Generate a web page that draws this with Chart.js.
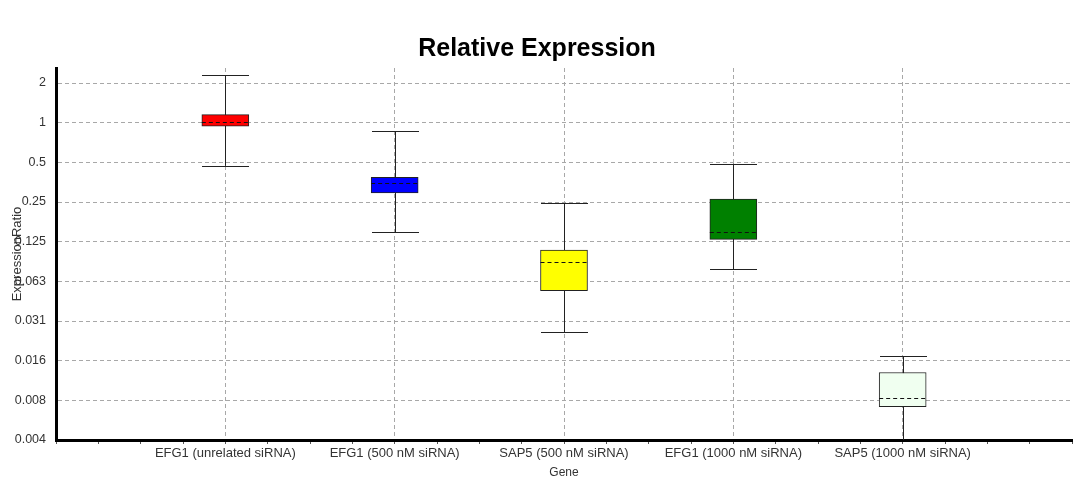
<!DOCTYPE html>
<html>
<head>
<meta charset="utf-8">
<script src="https://cdn.jsdelivr.net/npm/chart.js@4"></script>
<style>
  html, body { margin: 0; padding: 0; background: #fff; }
  #wrap { width: 1088px; height: 490px; }
</style>
</head>
<body>
<div id="wrap"><canvas id="exprChart" width="1088" height="490"></canvas></div>
<script>
// values (log2 axis)
const categories = ['EFG1 (unrelated siRNA)', 'EFG1 (500 nM siRNA)', 'SAP5 (500 nM siRNA)', 'EFG1 (1000 nM siRNA)', 'SAP5 (1000 nM siRNA)'];
const whiskerMax = [2.3, 0.86, 0.246, 0.49, 0.0169];
const boxUpper   = [1.15, 0.385, 0.108, 0.263, 0.0127];
const medians    = [1.02, 0.35, 0.087, 0.147, 0.0081];
const boxLower   = [0.94, 0.293, 0.053, 0.130, 0.0070];
const whiskerMin = [0.47, 0.147, 0.0256, 0.0775, 0.003];
const boxColors  = ['#ff0000', '#0000ff', '#ffff00', '#008000', '#f0fff0'];

const yTickValues = [2, 1, 0.5, 0.25, 0.125, 0.0625, 0.03125, 0.015625, 0.0078125, 0.00390625];
const yTickLabels = ['2', '1', '0.5', '0.25', '0.125', '0.063', '0.031', '0.016', '0.008', '0.004'];

const FONT = 'Arial, "Liberation Sans", sans-serif';

document.addEventListener('DOMContentLoaded', function() {
  const ctx = document.getElementById('exprChart');

  // whiskers under the boxes, dashed median on top
  const boxWhiskers = {
    id: 'boxWhiskers',
    beforeDatasetsDraw(chart) {
      const c = chart.ctx, y = chart.scales.y, area = chart.chartArea;
      const meta = chart.getDatasetMeta(0);
      c.save();
      c.beginPath();
      c.rect(area.left, area.top, area.right - area.left, area.bottom - area.top);
      c.clip();
      c.strokeStyle = '#222';
      c.lineWidth = 1;
      meta.data.forEach(function(bar, i) {
        const x = Math.round(bar.x) + 0.5, half = bar.width / 2;
        const yMax = y.getPixelForValue(whiskerMax[i]);
        const yMin = y.getPixelForValue(whiskerMin[i]);
        c.beginPath();
        c.moveTo(x, yMax);
        c.lineTo(x, yMin);
        c.moveTo(x - half, Math.round(yMax) + 0.5);
        c.lineTo(x + half, Math.round(yMax) + 0.5);
        c.moveTo(x - half, Math.round(yMin) + 0.5);
        c.lineTo(x + half, Math.round(yMin) + 0.5);
        c.stroke();
      });
      c.restore();
    },
    afterDatasetsDraw(chart) {
      const c = chart.ctx, y = chart.scales.y;
      const meta = chart.getDatasetMeta(0);
      c.save();
      c.strokeStyle = '#111';
      c.lineWidth = 1;
      c.setLineDash([4, 3]);
      meta.data.forEach(function(bar, i) {
        const half = bar.width / 2;
        const ym = Math.round(y.getPixelForValue(medians[i])) + 0.5;
        c.beginPath();
        c.moveTo(bar.x - half, ym);
        c.lineTo(bar.x + half, ym);
        c.stroke();
      });
      c.restore();
    }
  };

  function isCategoryTick(c) {
    if (!c || !c.tick) return false;
    const v = c.tick.value;
    return Number.isInteger(v) && v > 0 && v < 6;
  }

  new Chart(ctx, {
    type: 'bar',
    data: {
      datasets: [{
        data: categories.map((name, i) => ({ x: i + 1, y: [boxLower[i], boxUpper[i]] })),
        backgroundColor: boxColors,
        borderColor: '#222',
        borderWidth: 1,
        borderSkipped: false,
        barThickness: 47
      }]
    },
    plugins: [boxWhiskers],
    options: {
      responsive: false,
      animation: false,
      layout: { padding: { left: 2, right: 16, top: 0, bottom: 10 } },
      plugins: {
        legend: { display: false },
        tooltip: { enabled: false },
        title: {
          display: true,
          text: 'Relative Expression',
          color: '#000',
          font: { family: FONT, size: 25, weight: 'bold' },
          padding: { top: 34, bottom: 4 }
        }
      },
      scales: {
        x: {
          type: 'linear',
          min: 0,
          max: 6,
          offset: false,
          border: { color: '#000', width: 3, dash: [4, 3] },
          grid: {
            offset: false,
            color: c => isCategoryTick(c) ? '#a8a8a8' : 'rgba(0,0,0,0)',
            tickColor: '#555',
            tickLength: 4,
            tickBorderDash: [],
            drawTicks: true
          },
          afterBuildTicks: function(scale) {
            const t = [];
            for (let v = 0; v <= 24; v++) t.push({ value: v / 4 });
            scale.ticks = t;
          },
          ticks: {
            autoSkip: false,
            maxRotation: 0,
            minRotation: 0,
            padding: 2,
            color: '#333',
            font: { family: FONT, size: 13 },
            callback: function(value) {
              return (Number.isInteger(value) && value >= 1 && value <= 5) ? categories[value - 1] : '';
            }
          },
          title: {
            display: true,
            text: 'Gene',
            color: '#333',
            font: { family: FONT, size: 12 },
            padding: { top: 2, bottom: 0 }
          }
        },
        y: {
          type: 'logarithmic',
          min: 0.00390625,
          max: 2.6,
          border: { color: '#000', width: 3, dash: [4, 3] },
          grid: {
            color: '#a8a8a8',
            drawTicks: false
          },
          afterBuildTicks: function(scale) {
            scale.ticks = yTickValues.map(v => ({ value: v }));
          },
          afterFit: function(scale) {
            scale.width = 54;
          },
          ticks: {
            padding: 10,
            color: '#333',
            font: { family: FONT, size: 12.5 },
            callback: function(value, index) {
              return yTickLabels[index];
            }
          },
          title: {
            display: true,
            text: 'ExpressionRatio',
            color: '#333',
            font: { family: FONT, size: 13 },
            padding: { top: 8, bottom: 0 }
          }
        }
      }
    }
  });
});
</script>
</body>
</html>
